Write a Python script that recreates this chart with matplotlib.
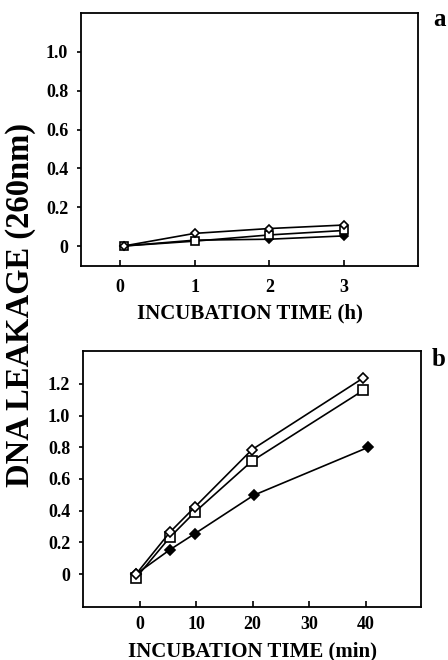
import matplotlib
matplotlib.use('Agg')
import matplotlib.pyplot as plt
import numpy as np

plt.rcParams['font.family'] = ['Liberation Serif', 'DejaVu Serif']
plt.rcParams['font.weight'] = 'bold'

# panel a: incubation in hours
time_a = [0.05, 1, 2, 3]
open_diamond_a = [0, 0.065, 0.09, 0.108]
open_square_a = [0, 0.025, 0.057, 0.08]
filled_diamond_a = [0, 0.03, 0.035, 0.052]

# panel b: incubation in minutes
time_b = [-0.6, 5.4, 9.8, 19.9, 39.6]
time_b_filled = [-0.6, 5.4, 9.8, 20.2, 40.5]
open_diamond_b = [0, 0.265, 0.423, 0.785, 1.237]
open_square_b = [-0.023, 0.233, 0.391, 0.713, 1.159]
filled_diamond_b = [0, 0.154, 0.255, 0.497, 0.80]

fig = plt.figure(figsize=(4.48, 6.6), dpi=100)
W, H = 448, 660
ax1 = fig.add_axes([81 / W, 1 - 266 / H, (418 - 81) / W, (266 - 13) / H])
ax2 = fig.add_axes([83 / W, 1 - 607 / H, (421 - 83) / W, (607 - 351) / H])


def draw(ax, x, y, marker, face, ms):
    ax.plot(x, y, color='black', lw=1.2, marker=marker, ms=ms,
            markerfacecolor=face, markeredgecolor='black', markeredgewidth=1.2,
            clip_on=False, zorder=3)


draw(ax1, time_a, filled_diamond_a, 'D', 'black', 4.5)
draw(ax1, time_a, open_square_a, 's', 'white', 5.5)
draw(ax1, time_a, open_diamond_a, 'D', 'white', 4.5)

draw(ax2, time_b_filled, filled_diamond_b, 'D', 'black', 5.5)
draw(ax2, time_b, open_square_b, 's', 'white', 7)
draw(ax2, time_b, open_diamond_b, 'D', 'white', 5.5)

ax1.set_xlim(-0.52, 3.99)
ax1.set_ylim(-0.103, 1.2)
ax1.set_xticks([0, 1, 2, 3])
ax1.set_yticks([0, 0.2, 0.4, 0.6, 0.8, 1.0])
ax1.set_yticklabels(['0', '0.2', '0.4', '0.6', '0.8', '1.0'])
ax1.set_xlabel('INCUBATION TIME (h)', fontsize=15, fontweight='bold', labelpad=6)

ax2.set_xlim(-10, 49.8)
ax2.set_ylim(-0.208, 1.407)
ax2.set_xticks([0, 10, 20, 30, 40])
ax2.set_yticks([0, 0.2, 0.4, 0.6, 0.8, 1.0, 1.2])
ax2.set_yticklabels(['0', '0.2', '0.4', '0.6', '0.8', '1.0', '1.2'])
ax2.set_xlabel('INCUBATION TIME (min)', fontsize=15, fontweight='bold', labelpad=6)

for ax, xpad in ((ax1, 9), (ax2, 6.5)):
    for s in ax.spines.values():
        s.set_linewidth(1.3)
    ax.tick_params(axis='y', direction='out', length=3.2, width=1.2, labelsize=13, pad=6)
    ax.tick_params(axis='x', direction='in', length=4, width=1.2, labelsize=13, pad=xpad)

fig.text(21 / W, 1 - 305 / H, 'DNA LEAKAGE (260nm)', rotation=90, fontsize=23.5,
         fontweight='bold', ha='center', va='center')
fig.text(439 / W, 1 - 19 / H, 'a', fontsize=18, fontweight='bold', ha='center', va='center')
fig.text(439 / W, 1 - 359 / H, 'b', fontsize=18, fontweight='bold', ha='center', va='center')

fig.savefig('out.png', dpi=100)
